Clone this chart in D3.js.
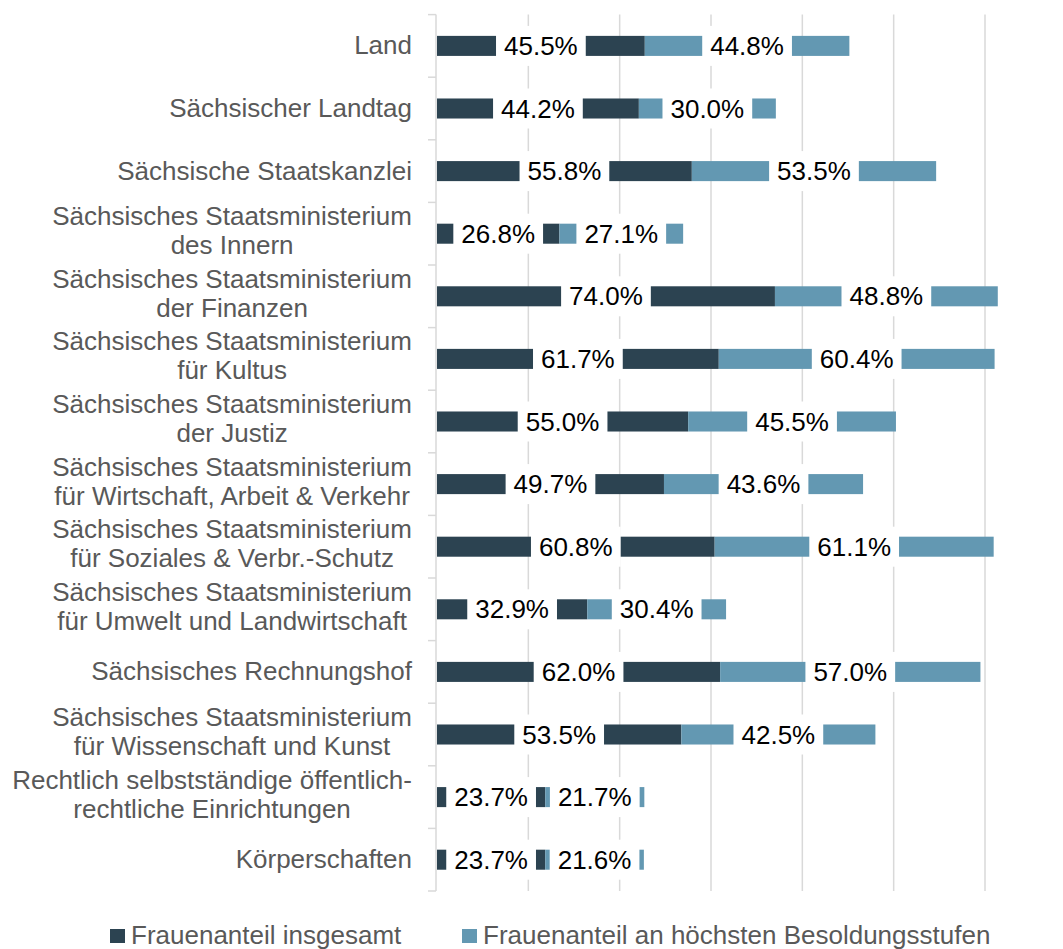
<!DOCTYPE html>
<meta charset="utf-8">
<style>
body { margin: 0; background: #fff; }
text { font-family: "Liberation Sans", Arial, sans-serif; }
.cat { fill: #595959; font-size: 26px; }
.val { fill: #000; font-size: 26px; }
.leg { fill: #595959; font-size: 26px; }
</style>
<body>
<svg id="chart"></svg>
<script src="https://d3js.org/d3.v7.min.js"></script>
<script>

// categories (\n = line break in the axis label)
var categories = [
  "Land",
  "Sächsischer Landtag",
  "Sächsische Staatskanzlei",
  "Sächsisches Staatsministerium\ndes Innern",
  "Sächsisches Staatsministerium\nder Finanzen",
  "Sächsisches Staatsministerium\nfür Kultus",
  "Sächsisches Staatsministerium\nder Justiz",
  "Sächsisches Staatsministerium\nfür Wirtschaft, Arbeit & Verkehr",
  "Sächsisches Staatsministerium\nfür Soziales & Verbr.-Schutz",
  "Sächsisches Staatsministerium\nfür Umwelt und Landwirtschaft",
  "Sächsisches Rechnungshof",
  "Sächsisches Staatsministerium\nfür Wissenschaft und Kunst",
  "Rechtlich selbstständige öffentlich-\nrechtliche Einrichtungen",
  "Körperschaften"
];

var insgesamt = [45.5, 44.2, 55.8, 26.8, 74.0, 61.7, 55.0, 49.7, 60.8, 32.9, 62.0, 53.5, 23.7, 23.7];
var hoechste  = [44.8, 30.0, 53.5, 27.1, 48.8, 60.4, 45.5, 43.6, 61.1, 30.4, 57.0, 42.5, 21.7, 21.6];

var seriesNames = ["Frauenanteil insgesamt", "Frauenanteil an höchsten Besoldungsstufen"];
var seriesColors = ["#2c4351", "#6398b2"];
var xTicks = [0, 20, 40, 60, 80, 100, 120];

var W = 1063, H = 949;
var svg = d3.select("#chart").attr("width", W).attr("height", H);

// scales
var x = d3.scaleLinear().domain([0, 120]).range([437, 985]);
var y = d3.scaleBand().domain(categories).range([14.6, 891])
    .paddingInner(0.68).paddingOuter(0.34);
var step = y.step();

// stacked table
var table = categories.map(function(c, i) {
  return { cat: c, a: insgesamt[i], b: hoechste[i] };
});
var stack = d3.stack().keys(["a", "b"]);
var layers = stack(table);

// gridlines
svg.append("g").selectAll("line")
    .data(xTicks.slice(1))
  .enter().append("line")
    .attr("x1", function(d) { return x(d); })
    .attr("x2", function(d) { return x(d); })
    .attr("y1", 14.6)
    .attr("y2", 891)
    .attr("stroke", "#d9d9d9")
    .attr("stroke-width", 1.5);

// category axis line + ticks between bands
var axisX = 436;
svg.append("line")
    .attr("x1", axisX).attr("x2", axisX)
    .attr("y1", 14.6).attr("y2", 891)
    .attr("stroke", "#d9d9d9").attr("stroke-width", 1.5);
svg.append("g").selectAll("line")
    .data(d3.range(categories.length + 1))
  .enter().append("line")
    .attr("x1", axisX - 8).attr("x2", axisX)
    .attr("y1", function(i) { return 14.6 + i * step; })
    .attr("y2", function(i) { return 14.6 + i * step; })
    .attr("stroke", "#d9d9d9").attr("stroke-width", 1.5);

// bars
svg.append("g").selectAll("g")
    .data(layers)
  .enter().append("g")
    .attr("fill", function(d, i) { return seriesColors[i]; })
  .selectAll("rect")
    .data(function(d) { return d; })
  .enter().append("rect")
    .attr("x", function(d) { return x(d[0]); })
    .attr("width", function(d) { return x(d[1]) - x(d[0]); })
    .attr("y", function(d) { return y(d.data.cat); })
    .attr("height", y.bandwidth());

// value labels with white boxes
var fmt = function(v) { return d3.format(".1f")(v) + "%"; };
var labels = svg.append("g");
layers.forEach(function(layer) {
  layer.forEach(function(d) {
    var cx = (x(d[0]) + x(d[1])) / 2;
    var cy = y(d.data.cat) + y.bandwidth() / 2;
    var g = labels.append("g");
    var box = g.append("rect").attr("fill", "#fff");
    var t = g.append("text")
        .attr("class", "val")
        .attr("x", cx)
        .attr("y", cy + 9)
        .attr("text-anchor", "middle")
        .text(fmt(d[1] - d[0]));
    var w = t.node().getComputedTextLength();
    box.attr("x", cx - w / 2 - 8)
       .attr("width", w + 16)
       .attr("y", cy - 20)
       .attr("height", 40);
  });
});

// category labels: lines centred, block right-aligned
var catG = svg.append("g");
categories.forEach(function(c) {
  var lines = c.split("\n");
  var cy = y(c) + y.bandwidth() / 2;
  var n = lines.length;
  var texts = lines.map(function(l, i) {
    return catG.append("text")
        .attr("class", "cat")
        .attr("text-anchor", "middle")
        .attr("y", cy + 8.5 + (i - (n - 1) / 2) * 29 - (n > 1 ? 2.5 : 0))
        .text(l);
  });
  var maxW = d3.max(texts, function(t) { return t.node().getComputedTextLength(); });
  texts.forEach(function(t) { t.attr("x", 412 - maxW / 2); });
});

// legend
var legX = [110, 462];
var legend = svg.append("g").selectAll("g")
    .data(seriesNames)
  .enter().append("g")
    .attr("transform", function(d, i) { return "translate(" + legX[i] + ",0)"; });
legend.append("rect")
    .attr("y", 929).attr("width", 15).attr("height", 14)
    .attr("fill", function(d, i) { return seriesColors[i]; });
legend.append("text")
    .attr("class", "leg")
    .attr("x", 21).attr("y", 944)
    .text(function(d) { return d; });

</script>
</body>
